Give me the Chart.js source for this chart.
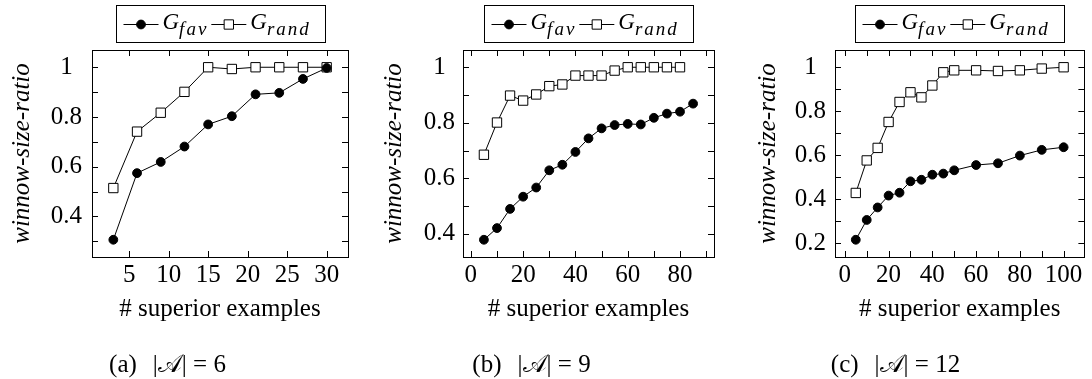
<!DOCTYPE html>
<html>
<head>
<meta charset="utf-8">
<script src="https://cdn.jsdelivr.net/npm/chart.js@4.4.1/dist/chart.umd.min.js"></script>
<style>
  body {
    margin: 0;
    background: #fff;
    width: 1092px;
    height: 379px;
    position: relative;
    overflow: hidden;
  }
  canvas {
    position: absolute;
    top: 0;
  }
</style>
</head>
<body>
<canvas id="chartA" width="364" height="379" style="left:0px"></canvas>
<canvas id="chartB" width="364" height="379" style="left:364px"></canvas>
<canvas id="chartC" width="364" height="379" style="left:728px"></canvas>

<script>
// (a) |A| = 6
const xA = [3, 6, 9, 12, 15, 18, 21, 24, 27, 30];
const favA = [0.306, 0.574, 0.619, 0.681, 0.77, 0.803, 0.891, 0.897, 0.953, 0.997];
const randA = [0.514, 0.741, 0.817, 0.901, 1.0, 0.993, 1.0, 1.0, 1.0, 1.0];

// (b) |A| = 9
const xFavB = [5, 10, 15, 20, 25, 30, 35, 40, 45, 50, 55, 60, 65, 70, 75, 80, 85];
const favB = [0.379, 0.421, 0.49, 0.534, 0.567, 0.629, 0.649, 0.695, 0.744, 0.78, 0.792, 0.796, 0.794, 0.818, 0.833, 0.84, 0.869];
const xRandB = [5, 10, 15, 20, 25, 30, 35, 40, 45, 50, 55, 60, 65, 70, 75, 80];
const randB = [0.685, 0.801, 0.898, 0.88, 0.902, 0.932, 0.938, 0.97, 0.97, 0.97, 0.988, 1.0, 1.0, 1.0, 1.0, 1.0];

// (c) |A| = 12
const xC = [5, 10, 15, 20, 25, 30, 35, 40, 45, 50, 60, 70, 80, 90, 100];
const favC = [0.215, 0.305, 0.362, 0.416, 0.429, 0.481, 0.488, 0.511, 0.516, 0.531, 0.555, 0.563, 0.598, 0.624, 0.636];
const randC = [0.428, 0.576, 0.633, 0.751, 0.842, 0.886, 0.863, 0.917, 0.977, 0.986, 0.986, 0.983, 0.986, 0.994, 1.0];

// tick labels shown on each panel (other ticks are unlabeled marks)
const xLabelsA = [5, 10, 15, 20, 25, 30];
const xLabelsB = [0, 20, 40, 60, 80];
const xLabelsC = [0, 20, 40, 60, 80, 100];
const yLabelsA = [0.4, 0.6, 0.8, 1];
const yLabelsB = [0.4, 0.6, 0.8, 1];
const yLabelsC = [0.2, 0.4, 0.6, 0.8, 1];

// no generic fallback: "serif" maps to a sans face in this browser
const SERIF = "'Liberation Serif'";

const toPoints = (xs, ys) => xs.map((x, i) => ({ x: x, y: ys[i] }));

// pgfplots-style enlarged limits (10% of data range each side)
function enlarged(values) {
  const lo = Math.min(...values);
  const hi = Math.max(...values);
  const pad = (hi - lo) * 0.1;
  return { min: lo - pad, max: hi + pad };
}

// Box frame with inward ticks on all four sides
const frameTicks = {
  id: "frameTicks",
  beforeDatasetsDraw(chart) {
    const { ctx, chartArea: a, scales } = chart;
    const len = 6;
    ctx.save();
    ctx.strokeStyle = "#000";
    ctx.lineWidth = 1;
    ctx.beginPath();
    scales.x.ticks.forEach((t) => {
      const px = Math.round(scales.x.getPixelForValue(t.value)) + 0.5;
      ctx.moveTo(px, a.bottom);
      ctx.lineTo(px, a.bottom - len);
      ctx.moveTo(px, a.top);
      ctx.lineTo(px, a.top + len);
    });
    scales.y.ticks.forEach((t) => {
      const py = Math.round(scales.y.getPixelForValue(t.value)) + 0.5;
      ctx.moveTo(a.left, py);
      ctx.lineTo(a.left + len, py);
      ctx.moveTo(a.right, py);
      ctx.lineTo(a.right - len, py);
    });
    ctx.stroke();
    ctx.strokeRect(Math.round(a.left) + 0.5, Math.round(a.top) + 0.5,
      Math.round(a.right - a.left), Math.round(a.bottom - a.top));
    ctx.restore();
  },
};

function drawMarker(ctx, ds, x, y) {
  ctx.beginPath();
  if (ds.pointStyle === "rect") {
    const s = ds.pointRadius * Math.SQRT1_2;
    ctx.rect(x - s, y - s, 2 * s, 2 * s);
  } else {
    ctx.arc(x, y, ds.pointRadius, 0, Math.PI * 2);
  }
  ctx.fillStyle = ds.pointBackgroundColor;
  ctx.fill();
  ctx.lineWidth = 1;
  ctx.strokeStyle = "#000";
  ctx.stroke();
}

// Legend with TeX-like subscripts: G_fav, G_rand
const texLegend = {
  id: "texLegend",
  afterDraw(chart) {
    const { ctx, chartArea: a } = chart;
    const sets = chart.data.datasets;
    const bigFont = "italic 23px " + SERIF;
    const subFont = "italic 19px " + SERIF;
    const subSpacing = "2px";
    const lineLen = 35, padL = 7, padR = 15, gap = 4, itemGap = 3;
    ctx.save();
    const sizes = sets.map((ds) => {
      ctx.font = bigFont;
      ctx.letterSpacing = "0px";
      const g = ctx.measureText(ds.symbol).width;
      ctx.font = subFont;
      ctx.letterSpacing = subSpacing;
      const s = ctx.measureText(ds.sub).width;
      return { g, s };
    });
    let total = padL + padR;
    sizes.forEach((sz, i) => {
      total += lineLen + gap + sz.g + sz.s + (i < sizes.length - 1 ? itemGap : 0);
    });
    total = Math.round(total);
    const boxTop = 5.5, boxH = 37;
    const left = Math.round((a.left + a.right) / 2 - total / 2) + 0.5;
    ctx.strokeStyle = "#000";
    ctx.lineWidth = 1;
    ctx.fillStyle = "#fff";
    ctx.fillRect(left, boxTop, total, boxH);
    ctx.strokeRect(left, boxTop, total, boxH);

    const midY = 24.5;
    let x = left + padL;
    sets.forEach((ds, i) => {
      ctx.beginPath();
      ctx.moveTo(x, midY);
      ctx.lineTo(x + lineLen, midY);
      ctx.strokeStyle = "#000";
      ctx.stroke();
      drawMarker(ctx, ds, x + lineLen / 2, midY);
      x += lineLen + gap;
      ctx.fillStyle = "#000";
      ctx.textBaseline = "alphabetic";
      ctx.font = bigFont;
      ctx.letterSpacing = "0px";
      ctx.fillText(ds.symbol, x, 28.5);
      x += sizes[i].g;
      ctx.font = subFont;
      ctx.letterSpacing = subSpacing;
      ctx.fillText(ds.sub, x, 35);
      x += sizes[i].s + itemGap;
    });
    ctx.restore();
  },
};

// Sub-figure caption under each panel, e.g. "(a)  |𝒜| = 6"
const subCaption = {
  id: "subCaption",
  afterDraw(chart, args, opts) {
    const { ctx } = chart;
    ctx.save();
    ctx.font = "25px " + SERIF;
    ctx.fillStyle = "#000";
    ctx.textBaseline = "alphabetic";
    const quad = 16;
    const wTag = ctx.measureText(opts.tag).width;
    const wText = ctx.measureText(opts.text).width;
    let x = opts.center - (wTag + quad + wText) / 2;
    ctx.fillText(opts.tag, x, 372);
    ctx.fillText(opts.text, x + wTag + quad, 372);
    ctx.restore();
  },
};

function labelFor(list) {
  return (value) => {
    const hit = list.find((v) => Math.abs(v - value) < 1e-6);
    return hit === undefined ? "" : String(hit);
  };
}

function makeChart(canvasId, panel) {
  const ctx = document.getElementById(canvasId).getContext("2d");
  const xr = enlarged(panel.favX.concat(panel.randX));
  const yr = enlarged(panel.favY.concat(panel.randY));
  return new Chart(ctx, {
    type: "line",
    data: {
      datasets: [
        {
          label: "G fav",
          symbol: "G",
          sub: "fav",
          data: toPoints(panel.favX, panel.favY),
          borderColor: "#000",
          borderWidth: 1,
          tension: 0,
          pointStyle: "circle",
          pointRadius: 4.4,
          pointBackgroundColor: "#000",
          pointBorderColor: "#000",
          pointBorderWidth: 1,
        },
        {
          label: "G rand",
          symbol: "G",
          sub: "rand",
          data: toPoints(panel.randX, panel.randY),
          borderColor: "#000",
          borderWidth: 1,
          tension: 0,
          pointStyle: "rect",
          pointRadius: 6.6,
          pointBackgroundColor: "#fff",
          pointBorderColor: "#000",
          pointBorderWidth: 1,
        },
      ],
    },
    options: {
      responsive: false,
      animation: false,
      events: [],
      layout: { padding: { left: 0, top: 50, right: 364 - panel.plotRight, bottom: 49 } },
      plugins: {
        legend: { display: false },
        tooltip: { enabled: false },
        subCaption: { tag: panel.tag, text: panel.caption, center: 167.5 },
      },
      scales: {
        x: {
          type: "linear",
          min: xr.min,
          max: xr.max,
          grid: { display: false, drawTicks: false },
          border: { display: false },
          afterFit: (scale) => { scale.height = 73; },
          ticks: {
            stepSize: panel.xStep,
            includeBounds: false,
            autoSkip: false,
            maxRotation: 0,
            padding: 3,
            color: "#000",
            font: { family: SERIF, size: 25 },
            callback: labelFor(panel.xLabels),
          },
          title: {
            display: true,
            text: "# superior examples",
            color: "#000",
            font: { family: SERIF, size: 25 },
            padding: { top: 0, bottom: 6 },
          },
        },
        y: {
          type: "linear",
          min: yr.min,
          max: yr.max,
          grid: { display: false, drawTicks: false },
          border: { display: false },
          afterFit: (scale) => { scale.width = panel.plotLeft; },
          ticks: {
            stepSize: 0.1,
            includeBounds: false,
            autoSkip: false,
            crossAlign: "center",
            padding: panel.yTickPad,
            color: "#000",
            font: { family: SERIF, size: 25 },
            callback: labelFor(panel.yLabels),
          },
          title: {
            display: true,
            text: "winnow-size-ratio",
            color: "#000",
            font: { family: SERIF, size: 25, style: "italic" },
            padding: { top: panel.yTitlePad, bottom: 0 },
          },
        },
      },
    },
    plugins: [frameTicks, texLegend, subCaption],
  });
}

function buildAll() {
  makeChart("chartA", {
    favX: xA, favY: favA, randX: xA, randY: randA,
    xStep: 5, xLabels: xLabelsA, yLabels: yLabelsA,
    plotLeft: 92, plotRight: 348, yTitlePad: 7, yTickPad: 10,
    tag: "(a)", caption: "|𝒜| = 6",
  });
  makeChart("chartB", {
    favX: xFavB, favY: favB, randX: xRandB, randY: randB,
    xStep: 10, xLabels: xLabelsB, yLabels: yLabelsB,
    plotLeft: 99, plotRight: 350, yTitlePad: 15, yTickPad: 8,
    tag: "(b)", caption: "|𝒜| = 9",
  });
  makeChart("chartC", {
    favX: xC, favY: favC, randX: xC, randY: randC,
    xStep: 10, xLabels: xLabelsC, yLabels: yLabelsC,
    plotLeft: 107, plotRight: 362, yTitlePad: 25, yTickPad: 9,
    tag: "(c)", caption: "|𝒜| = 12",
  });
}

// make sure the serif faces are ready before the canvas draws text
document.addEventListener("DOMContentLoaded", () => {
  Promise.all([
    document.fonts.load("25px 'Liberation Serif'"),
    document.fonts.load("italic 25px 'Liberation Serif'"),
  ]).then(buildAll, buildAll);
});
</script>
</body>
</html>
